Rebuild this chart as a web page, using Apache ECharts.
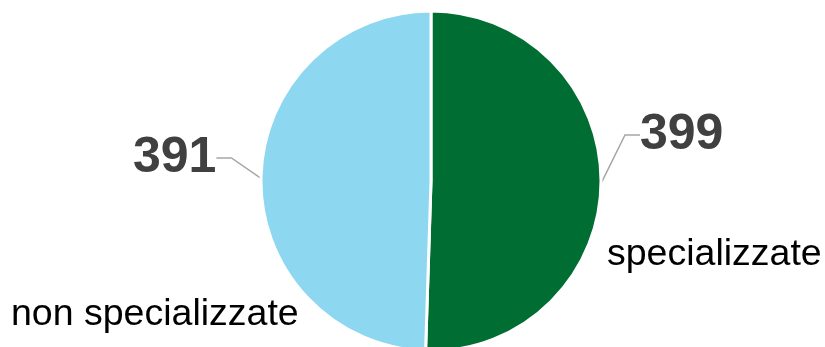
<!DOCTYPE html>
<html>
<head>
<meta charset="utf-8">
<script src="https://cdn.jsdelivr.net/npm/echarts@6/dist/echarts.min.js"></script>
<style>
  html, body { margin: 0; padding: 0; background: #fff; }
  #chart { width: 825px; height: 347px; }
</style>
</head>
<body>
<div id="chart"></div>
<script>
const categories = ['specializzate', 'non specializzate']
const values = [399, 391]
const colors = ['#006E33', '#8DD7F1']

// where the value labels and the category names sit
const valuePos = [[640, 110], [133, 133]]
const namePos = [[607, 236], [11, 296]]

const chart = echarts.init(document.getElementById('chart'))

const option = {
  animation: false,
  series: [{
    type: 'pie',
    center: [431, 181],
    radius: 170,
    startAngle: 90,
    clockwise: true,
    data: categories.map((name, i) => ({
      name,
      value: values[i],
      itemStyle: { color: colors[i] }
    })),
    itemStyle: { borderColor: '#fff', borderWidth: 3 },
    label: {
      show: true,
      position: 'outside',
      formatter: '{c}',
      fontFamily: 'Liberation Sans, Arial, sans-serif',
      fontWeight: 'bold',
      fontSize: 50,
      color: '#404040'
    },
    labelLine: {
      show: true,
      length: 20,
      length2: 15,
      lineStyle: { color: '#A6A6A6', width: 1.5 }
    },
    labelLayout: (params) => ({
      x: valuePos[params.dataIndex][0],
      y: valuePos[params.dataIndex][1],
      align: 'left',
      verticalAlign: 'top'
    })
  }],
  graphic: categories.map((name, i) => ({
    type: 'text',
    left: namePos[i][0],
    top: namePos[i][1],
    style: {
      text: name,
      fontFamily: 'Liberation Sans, Arial, sans-serif',
      fontSize: 37.5,
      fill: '#000'
    }
  }))
}

chart.setOption(option)
</script>
</body>
</html>
